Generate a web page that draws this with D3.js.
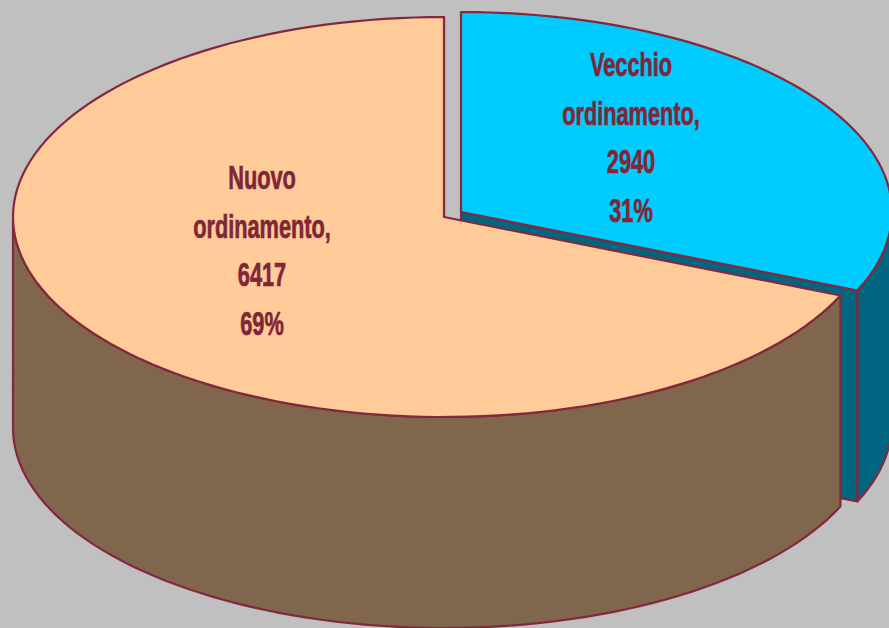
<!DOCTYPE html>
<html>
<head>
<meta charset="utf-8">
<script src="https://cdn.jsdelivr.net/npm/d3@7"></script>
<style>
  html, body { margin: 0; padding: 0; background: #c0c0c0; overflow: hidden; }
  svg { display: block; }
  text { font-family: "Liberation Sans", Arial, sans-serif; font-weight: bold; }
</style>
</head>
<body>
<svg id="chart" width="889" height="628"></svg>
<script>
// data
const categories = ['Vecchio ordinamento', 'Nuovo ordinamento'];
const labelLines = [['Vecchio', 'ordinamento,'], ['Nuovo', 'ordinamento,']];
const values = [2940, 6417];

// layout
const width = 889, height = 628;
const rx = 431, ry = 200, depth = 211;
const centers = [[461, 212], [444, 217]]; // first slice is pulled out
const labelAnchors = [[631, 138], [262, 251]];
const lineGap = 48.5;

// colours
const topColors = ['#00ccff', '#ffcc99'];
const sideColors = ['#006680', '#7f664c'];
const strokeColor = '#84283e';
const labelColor = '#7f2638';

const svg = d3.select('#chart');
const total = d3.sum(values);
const slices = d3.pie().sort(null).value((d) => d)(values);

const line = d3.line();

// angle 0 is at the top, clockwise
function pt(c, a, dy = 0) {
  return [c[0] + rx * Math.sin(a), c[1] - ry * Math.cos(a) + dy];
}

// the outline in the original is a polygon, so keep the steps visible
function arcPoints(c, a0, a1, dy = 0) {
  let n = Math.max(2, Math.ceil(Math.abs(a1 - a0) / 0.035));
  return d3.range(n + 1).map((i) => pt(c, a0 + (a1 - a0) * i / n, dy));
}

function drawPath(points, fill) {
  svg.append('path')
    .attr('d', line(points) + 'Z')
    .attr('fill', fill)
    .attr('stroke', strokeColor)
    .attr('stroke-width', 2.2)
    .attr('stroke-linejoin', 'round');
}

slices.forEach((s, i) => {
  let c = centers[i];
  // cut edge at the end of the slice, faces the viewer
  drawPath([c, pt(c, s.endAngle), pt(c, s.endAngle, depth), [c[0], c[1] + depth]], sideColors[i]);

  // outer wall, only the part below the horizontal axis of the ellipse is seen
  let a0 = Math.max(s.startAngle, Math.PI / 2);
  let a1 = Math.min(s.endAngle, Math.PI * 1.5);
  drawPath(arcPoints(c, a0, a1).concat(arcPoints(c, a1, a0, depth)), sideColors[i]);

  // top face
  drawPath([c].concat(arcPoints(c, s.startAngle, s.endAngle)), topColors[i]);
});

// labels
slices.forEach((s, i) => {
  let lines = labelLines[i].concat([String(values[i]), d3.format('.0%')(values[i] / total)]);
  let g = svg.append('g')
    .attr('transform', `translate(${labelAnchors[i][0]},${labelAnchors[i][1]}) scale(0.64,1)`);
  g.selectAll('text')
    .data(lines)
    .join('text')
    .attr('text-anchor', 'middle')
    .attr('y', (d, j) => (j - 1.5) * lineGap + 11)
    .attr('font-size', 34)
    .attr('fill', labelColor)
    .attr('stroke', labelColor)
    .attr('stroke-width', 0.7)
    .text((d) => d);
});
</script>
</body>
</html>
